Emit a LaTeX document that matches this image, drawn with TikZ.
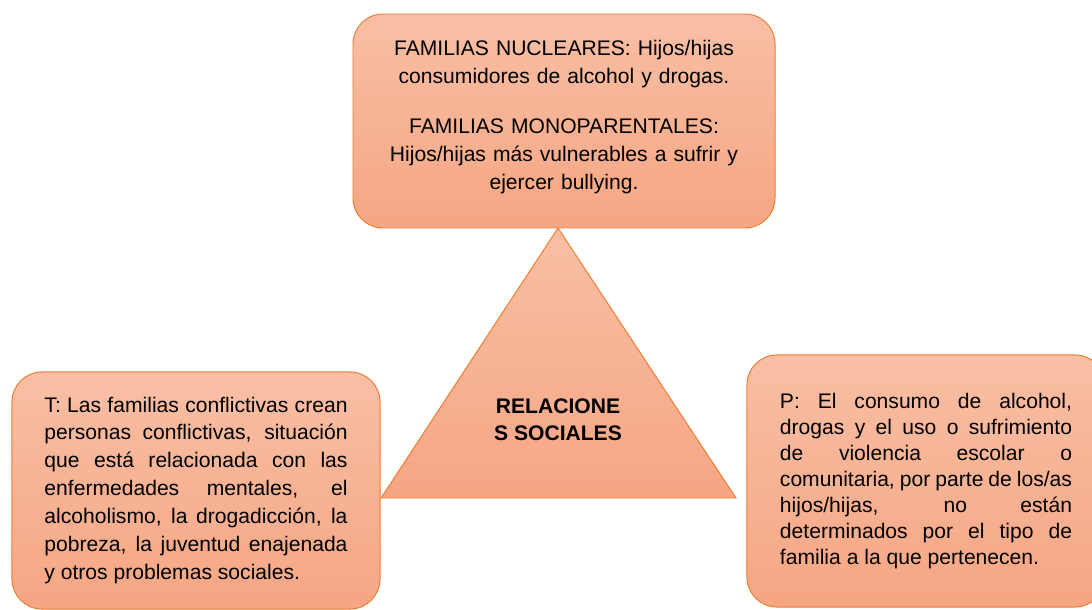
\documentclass[tikz,border=0pt]{standalone}
\usepackage{fontspec}
\setmainfont{Liberation Sans}

\definecolor{borde}{HTML}{ED7D31}
\definecolor{claro}{HTML}{F8BFA5}
\definecolor{oscuro}{HTML}{F5A683}

\tolerance=10000
\hyphenpenalty=10000

\tikzset{
  forma/.style={draw=borde, line width=0.7pt, top color=claro, bottom color=oscuro},
  bloque/.style={forma, rounded corners=0.75cm, inner sep=0pt},
  letra/.style={font=\fontsize{15pt}{19.9pt}\selectfont}
}

\begin{document}
\begin{tikzpicture}[x=0.025cm, y=-0.025cm]
        \useasboundingbox (0,0) rectangle (1092,610);
        \clip (0,0) rectangle (1092,610);

        % triangulo central
        \coordinate (V) at (558,228);
        \coordinate (I) at (381,498);
        \coordinate (D) at (736,498);
        \draw[forma] (V) -- (I) -- (D) -- cycle;
        \node[font=\fontsize{15pt}{19.4pt}\selectfont\bfseries, align=center] (R) at (558,420) {RELACIONE\\S SOCIALES};

        % cuadros de texto
        \draw[bloque] (353,14) rectangle (775,228);
        \node[letra, text width=9.5cm, align=center] (F) at (564,117)
            {FAMILIAS NUCLEARES: Hijos/hijas\\consumidores de alcohol y drogas.\\[15.4pt]FAMILIAS MONOPARENTALES:\\Hijos/hijas más vulnerables a sufrir y\\ejercer bullying.};

        \node[bloque, letra, minimum width=9.2cm, minimum height=5.925cm, text width=7.575cm, align=justify] (T) at (196,490.5)
            {T: Las familias conflictivas crean\linebreak personas conflictivas, situación\linebreak que está relacionada con las\linebreak enfermedades mentales, el\linebreak alcoholismo, la drogadicción, la\linebreak pobreza, la juventud enajenada\linebreak y otros problemas sociales.};

        \node[bloque, font=\fontsize{15pt}{18.5pt}\selectfont, minimum width=8.95cm, minimum height=6.3cm, text width=7.3cm, align=justify] (P) at (926,481)
            {P: El consumo de alcohol,\linebreak drogas y el uso o sufrimiento\linebreak de violencia escolar o\linebreak comunitaria, por parte de los/as\linebreak hijos/hijas, no están\linebreak determinados por el tipo de\linebreak familia a la que pertenecen.};
    \end{tikzpicture}
\end{document}
